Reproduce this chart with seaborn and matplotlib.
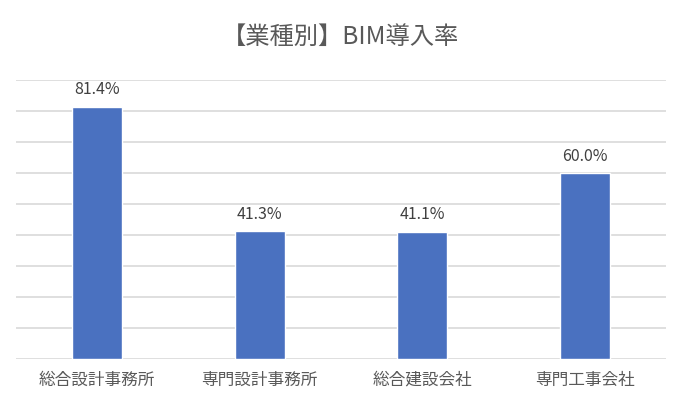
import matplotlib
matplotlib.use("Agg")
import matplotlib.pyplot as plt
import seaborn as sns
import pandas as pd

# BIM adoption rate by business type
categories = ["総合設計事務所", "専門設計事務所", "総合建設会社", "専門工事会社"]
rates = [81.4, 41.3, 41.1, 60.0]
title = "【業種別】BIM導入率"

sns.set_style("white")
plt.rcParams['font.family'] = ['Noto Sans CJK JP', 'DejaVu Sans']

df = pd.DataFrame({"category": categories, "rate": rates})

fig = plt.figure(figsize=(6.8, 4.09), dpi=100)
ax = fig.add_axes([16 / 680, 1 - 359 / 409, 650 / 680, 279 / 409])

sns.barplot(x="category", y="rate", data=df, color="#4A71C0", width=0.31,
            saturation=1, ax=ax, zorder=3)

ax.set_ylim(0, 90)
ax.set_yticks(range(0, 91, 10))
ax.yaxis.grid(True, color="#d9d9d9", linewidth=1.2, zorder=0)
ax.set_yticklabels([])
ax.tick_params(axis="y", length=0)
ax.tick_params(axis="x", length=0, pad=9, labelsize=12, labelcolor="#595959")
for s in ax.spines.values():
    s.set_visible(False)
ax.set_xlabel("")
ax.set_ylabel("")

for i, v in enumerate(rates):
    ax.annotate(f"{v:.1f}%", (i, v), xytext=(0, 12), textcoords="offset points",
                ha="center", va="center", fontsize=11.5, color="#404040")

fig.text(0.5, 1 - 37 / 409, title, ha="center", va="center", fontsize=17.5,
         color="#595959")

fig.savefig("out.png", dpi=100)
